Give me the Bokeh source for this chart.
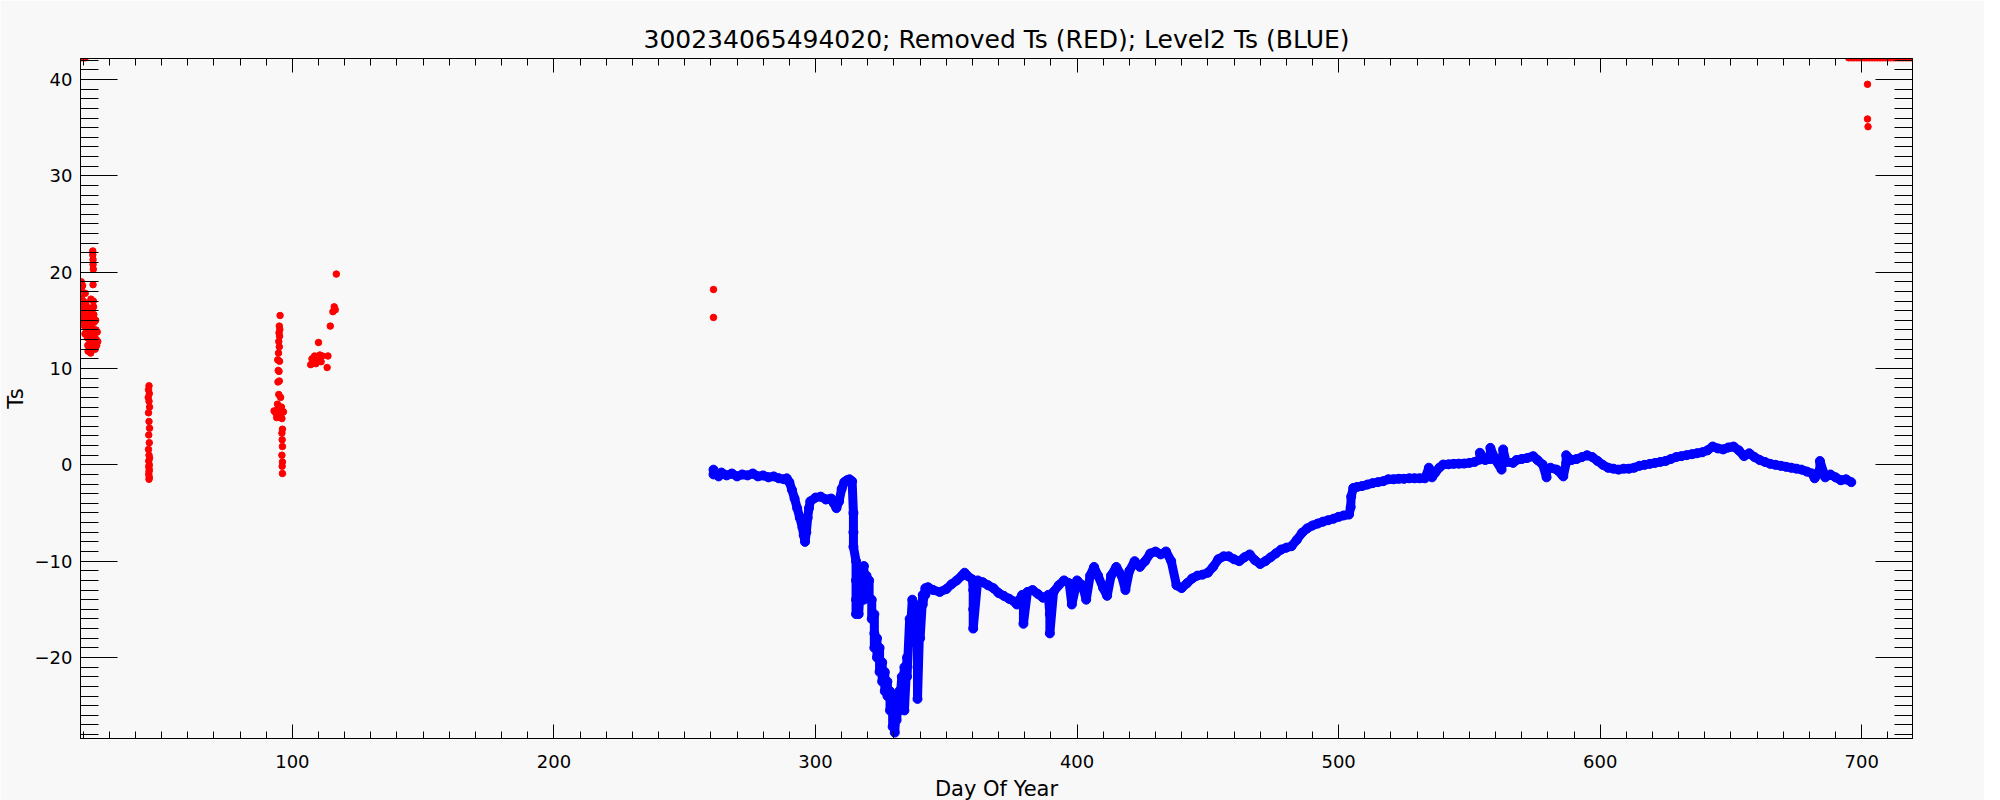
from bokeh.plotting import figure
from bokeh.models import LinearAxis, SingleIntervalTicker, Range1d, ColumnDataSource, CustomJSTickFormatter
from bokeh.embed import file_html
from bokeh.resources import INLINE

title_text = "300234065494020; Removed Ts (RED); Level2 Ts (BLUE)"
x_label = "Day Of Year"
y_label = "Ts"

# Removed Ts (RED) points
red_x = [19.3, 19.3, 19.3, 19.4, 19.5, 19.6, 19.8, 20.0, 20.2, 20.3, 20.5, 20.7, 20.8, 21.0, 21.2, 21.3,
         21.5, 21.6, 21.8, 21.9, 22.1, 22.2, 22.4, 22.5, 22.6, 22.8, 22.9, 23.0, 23.2, 23.3, 23.4, 23.5,
         23.6, 23.7, 23.7, 23.8, 23.8, 23.9, 23.8, 23.9, 24.0, 24.1, 24.2, 24.3, 24.4, 24.5, 24.6, 24.8,
         24.9, 25.0, 25.2, 25.4, 25.6,
         19.2, 20.0, 20.8,
         45.2, 45.0, 45.3, 44.9, 45.2, 45.4, 45.0, 45.2, 45.4, 45.1, 45.3, 45.0, 45.2, 45.4, 45.1, 45.3,
         45.1, 45.3, 45.2, 45.1, 45.3, 45.2,
         95.3, 95.0, 95.2, 94.9, 95.1, 94.8, 95.0, 94.7, 94.4, 95.1, 94.6, 94.9, 95.0, 94.5, 94.8, 95.5,
         94.3, 95.8, 93.0, 93.6, 94.2, 94.8, 95.4, 96.0, 96.6, 94.0, 96.0, 96.2, 96.0, 96.1, 96.2, 96.0,
         96.2, 96.1, 96.2,
         107.0, 107.5, 108.0, 108.5, 109.0, 109.5, 110.0, 110.5, 111.0, 111.4, 110.0, 113.3, 113.6, 114.5,
         115.5, 116.0, 116.4, 116.8,
         261.0, 261.0,
         702.2, 702.2, 702.4,
         695, 696, 697, 698, 699, 700, 701, 702, 703, 704, 705, 706, 707, 708, 709, 710, 711, 712, 713,
         714, 715, 716, 717, 718, 719]
red_y = [19.0, 18.2, 17.4, 16.6, 15.8, 15.0, 18.6, 17.0, 16.2, 15.2, 14.4, 13.6, 17.8, 16.8, 15.6, 14.8,
         14.0, 13.2, 12.4, 11.8, 16.3, 15.4, 14.6, 13.6, 12.8, 12.0, 11.6, 17.2, 16.0, 15.0, 14.2, 13.2,
         12.4, 22.2, 21.8, 21.3, 20.8, 20.3, 18.7, 17.0, 16.4, 15.6, 14.8, 14.0, 13.4, 12.6, 12.0, 15.0,
         14.0, 13.0, 12.4, 13.8, 12.8,
         42.25, 42.25, 42.25,
         8.2, 7.8, 7.4, 7.0, 6.6, 6.0, 5.4, 4.5, 3.8, 3.1, 2.3, 1.6, 1.0, 0.7, 0.4, 0.0,
         -0.2, -0.5, -0.7, -1.0, -1.3, -1.5,
         15.5, 14.4, 14.05, 13.7, 13.35, 12.8, 12.25, 11.6, 10.9, 10.75, 9.8, 9.7, 8.7, 8.6, 7.3, 7.0,
         6.3, 6.0, 5.6, 5.4, 5.7, 5.3, 5.6, 5.4, 5.5, 4.9, 4.8, 3.7, 3.3, 2.6, 1.9, 1.0,
         0.3, -0.15, -0.9,
         10.4, 11.0, 10.6, 11.3, 10.5, 11.1, 10.8, 11.4, 10.7, 11.3, 12.7, 10.1, 11.3, 14.4,
         15.9, 16.4, 16.1, 19.8,
         18.2, 15.3,
         39.5, 35.9, 35.1,
         42.25, 42.25, 42.25, 42.25, 42.25, 42.25, 42.25, 42.25, 42.25, 42.25, 42.25, 42.25, 42.25,
         42.25, 42.25, 42.25, 42.25, 42.25, 42.25, 42.25, 42.25, 42.25, 42.25, 42.25, 42.25]

# Level2 Ts (BLUE) points
blue_x = [261, 261, 262, 263, 264, 266, 268, 270, 272, 274, 276, 278, 280, 282, 284, 286, 288, 289,
          290, 291, 292, 293, 294, 295, 295.5, 296, 296.5, 297, 297.5, 298, 300, 302, 304, 306, 307,
          308, 309, 310, 311, 312, 313, 314,
          314.5, 314.5, 314.5, 315.5, 315.5, 315.5, 315.5, 316.5, 316.5, 317.5, 317.5, 318.5, 318.5,
          318.5, 319.5, 319.5, 320.5, 320.5, 321.5, 321.5, 322.5, 322.5, 322.5, 323.5, 323.5, 324.5,
          324.5, 325.5, 325.5, 326.5, 326.5, 327.5, 327.5, 328.5, 328.5, 329.5, 329.5, 330.3, 330.3,
          331, 331, 332, 332, 333, 333, 334, 334, 334, 335, 335, 336, 336, 337, 337, 338, 338, 339,
          339, 339, 340, 340, 341, 341, 342, 342, 343,
          345, 347.5, 350, 352, 354, 356, 357, 358, 360, 360.3, 360.3, 360.3, 362, 364, 366, 368, 370,
          372, 374, 376, 377, 378, 379, 379.5, 379.5, 381, 383, 385, 387, 389, 389.6, 389.6, 391, 393,
          395, 397, 398, 400, 402, 403.5, 405, 406.5, 408, 410, 411.5, 413, 415, 417, 418.5, 420, 422,
          424, 426, 428, 430, 432, 434, 436, 438, 440, 442, 444, 446, 448, 450, 452, 454, 456, 458,
          460, 462, 464, 466, 468, 470, 472, 474, 476, 478, 480, 482, 484, 486, 488, 490, 492, 494,
          496, 498, 500, 502, 504, 504.6, 504.8, 505.6, 507, 509, 511, 513, 515, 517, 519, 521, 523,
          525, 527, 529, 531, 533, 534.5, 535.7, 537, 538.5, 540, 542, 544, 546, 548, 550, 552, 554,
          554, 556, 558, 558, 560, 562.3, 562.9, 564, 566.7, 568, 570, 572, 574.4, 576, 578, 579.5,
          579.5, 581, 583.4, 585.9, 587, 587, 589, 591, 593, 595, 597, 599, 601, 603, 605, 607, 609,
          611, 613, 615, 617, 619, 621, 623, 625, 627, 629, 631, 633, 635, 637, 639, 641, 643, 645,
          647, 649, 651, 653, 655, 657, 659, 661, 663, 665, 667, 669, 671, 673, 675, 677, 679, 681,
          682, 684, 684, 686, 688, 690, 692, 694, 696]
blue_y = [-0.5, -1.0, -0.9, -1.2, -0.8, -1.1, -0.9, -1.2, -1.0, -1.1, -0.9, -1.2, -1.1, -1.3, -1.2,
          -1.4, -1.5, -1.4,
          -1.8, -2.6, -3.5, -4.5, -5.5, -6.5, -7.3, -8.0, -7.0, -5.5, -4.5, -3.8, -3.4, -3.3, -3.6,
          -3.5, -4.0, -4.5, -3.8, -2.5, -1.8, -1.6, -1.5, -1.7,
          -5.0, -7.0, -8.5, -10.0, -12.0, -14.0, -15.5, -13.0, -15.5, -11.0, -12.0, -10.5, -12.5,
          -14.0, -11.5, -13.5, -12.0, -13.8, -14.0, -16.0, -15.5, -17.5, -19.0, -18.0, -20.0, -19.0,
          -21.5, -20.5, -22.5, -21.5, -23.5, -22.5, -24.0, -23.5, -25.5, -25.0, -27.2, -26.0, -27.8,
          -24.5, -26.5, -23.5, -25.5, -22.0, -24.5, -21.0, -23.0, -25.5, -20.0, -22.0, -16.0, -18.5,
          -14.0, -15.5, -14.5, -17.0, -18.5, -21.0, -24.3, -15.0, -18.0, -13.5, -14.5, -12.8, -13.5,
          -12.7,
          -13.0, -13.2, -12.9, -12.4, -12.0, -11.5, -11.2, -11.5, -11.9, -13.0, -15.0, -17.0, -12.0,
          -12.2, -12.5, -12.8, -13.3, -13.6, -13.9, -14.2, -14.5, -14.0, -13.5, -14.5, -16.5, -13.2,
          -13.0, -13.4, -13.8, -13.5, -15.5, -17.5, -13.2, -12.5, -12.0, -12.3, -14.5, -12.0, -12.5,
          -14.0, -11.5, -10.6, -11.5, -12.8, -13.6, -11.5, -10.6, -11.5, -13.0, -11.0, -10.0, -10.6,
          -10.0, -9.2, -9.0, -9.3, -9.0, -10.0, -12.5, -12.8, -12.3, -11.8, -11.5, -11.4, -11.2,
          -10.6, -9.8, -9.5, -9.5, -9.8, -10.0, -9.6, -9.3, -9.9, -10.3, -10.0, -9.6, -9.2, -8.8,
          -8.6, -8.45, -7.8, -7.06, -6.6, -6.3, -6.1, -5.9, -5.75, -5.6, -5.4, -5.25, -5.16, -4.4,
          -3.3, -2.4, -2.3, -2.2, -2.05, -1.9, -1.8, -1.7, -1.5, -1.5, -1.45, -1.45, -1.4, -1.4,
          -1.4, -1.4, -0.3, -1.3, -0.8, -0.3, 0.03, 0.05, 0.1, 0.12, 0.13, 0.2, 0.3, 0.55, 1.25,
          0.5, 0.6, 1.76, 0.5, -0.5, 1.6, 0.3, 0.2, 0.5, 0.6, 0.7, 0.9, 0.5, 0.03, -1.3, -0.6, -0.3,
          -0.5, -1.2, 0.2, 1.0, 0.5, 0.6, 0.8, 1.0, 0.8, 0.4, 0.0, -0.3, -0.4, -0.5, -0.4, -0.4,
          -0.3, -0.1, 0.0, 0.1, 0.2, 0.3, 0.4, 0.6, 0.8, 0.9, 1.0, 1.1, 1.2, 1.3, 1.5, 1.9, 1.7,
          1.6, 1.8, 1.9, 1.5, 0.9, 1.2, 0.8, 0.5, 0.3, 0.1, 0.0, -0.1, -0.2, -0.3, -0.4, -0.5, -0.7,
          -0.9, -1.4, -0.5, 0.4, -1.3, -1.0, -1.3, -1.6, -1.5, -1.8]

BG = "#f8f8f8"
FONT = "DejaVu Sans"

p = figure(frame_width=1832, frame_height=680, output_backend="svg", toolbar_location=None,
           x_range=Range1d(19, 719.4), y_range=Range1d(-28.41, 42.18),
           min_border_left=80, min_border_right=72, min_border_top=58, min_border_bottom=50,
           background_fill_color=BG, border_fill_color=BG, title=title_text)
p.grid.visible = False
p.outline_line_color = "black"
p.title.align = "center"
p.title.text_font = FONT
p.title.text_font_size = "25px"
p.title.text_font_style = "normal"
p.title.text_color = "black"

xt = SingleIntervalTicker(interval=100, num_minor_ticks=10)
yt = SingleIntervalTicker(interval=10, num_minor_ticks=10)

top = LinearAxis(ticker=xt, formatter=CustomJSTickFormatter(code="return ''"))
right = LinearAxis(ticker=yt, formatter=CustomJSTickFormatter(code="return ''"))
p.add_layout(top, "above")
p.add_layout(right, "right")

for ax in p.xaxis:
    ax.ticker = xt
    ax.major_tick_in = 14
    ax.major_tick_out = 0
    ax.minor_tick_in = 7
    ax.minor_tick_out = 0
for ax in p.yaxis:
    ax.ticker = yt
    ax.major_tick_in = 37
    ax.major_tick_out = 0
    ax.minor_tick_in = 18
    ax.minor_tick_out = 0
for ax in list(p.xaxis) + list(p.yaxis):
    ax.axis_line_color = "black"
    ax.major_tick_line_color = "black"
    ax.minor_tick_line_color = "black"
    ax.major_label_text_font = FONT
    ax.major_label_text_font_size = "18px"
    ax.major_label_text_color = "black"
    ax.axis_label_text_font = FONT
    ax.axis_label_text_font_size = "21px"
    ax.axis_label_text_font_style = "normal"
    ax.axis_label_text_color = "black"

bottom = p.below[0]
bottom.axis_label = x_label
bottom.major_label_standoff = 16
bottom.axis_label_standoff = 6
left = p.left[0]
left.axis_label = y_label
left.major_label_standoff = 8
left.axis_label_standoff = 4

red_src = ColumnDataSource(dict(x=red_x, y=red_y))
blue_src = ColumnDataSource(dict(x=blue_x, y=blue_y))

p.line("x", "y", source=blue_src, line_color="#0000ff", line_width=9)
p.scatter("x", "y", source=blue_src, size=9, fill_color="#0000ff", line_color="#0000ff")
p.scatter("x", "y", source=red_src, size=6.5, fill_color="#ff0000", line_color="#ff0000")

open("out.html", "w").write(file_html(p, INLINE))
